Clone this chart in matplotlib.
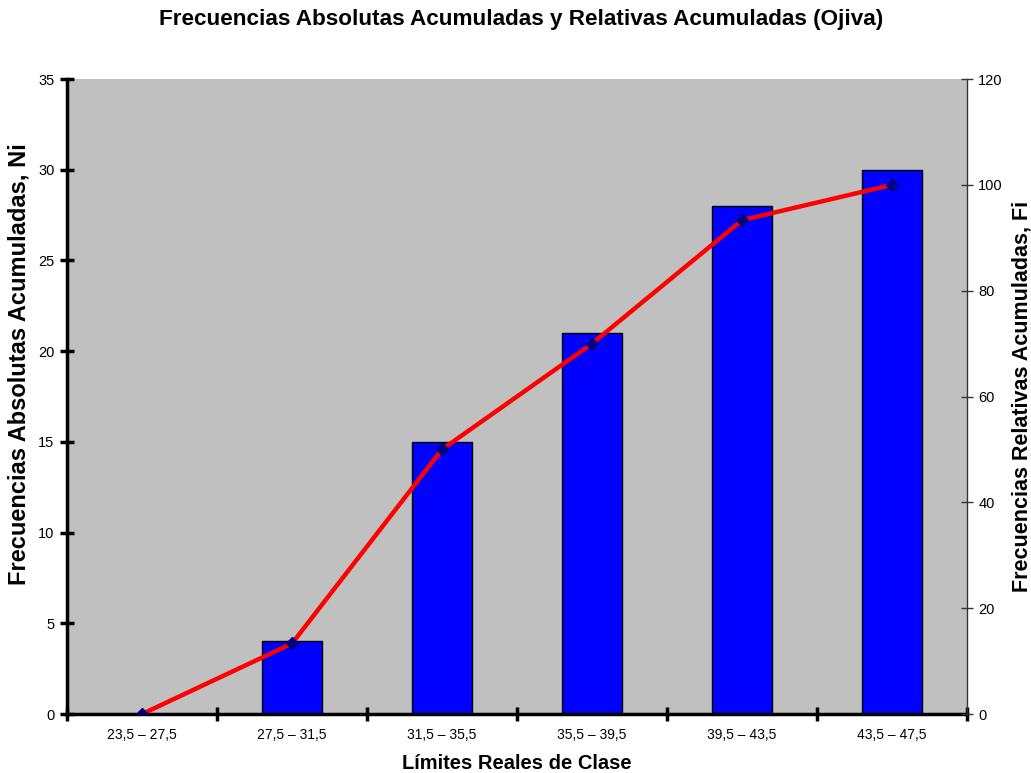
import matplotlib.pyplot as plt
import numpy as np

plt.rcParams['font.family'] = ['Liberation Sans', 'DejaVu Sans']

clases = ["23,5 – 27,5", "27,5 – 31,5", "31,5 – 35,5", "35,5 – 39,5", "39,5 – 43,5", "43,5 – 47,5"]
Ni = [0, 4, 15, 21, 28, 30]
Fi = [0, 13.33, 50, 70, 93.33, 100]

fig = plt.figure(figsize=(10.31, 7.73), dpi=100)
ax = fig.add_axes([0.065, 0.0763, 0.873, 0.8215])
ax.set_facecolor('#C0C0C0')

x = np.arange(len(clases))
ax.bar(x, Ni, width=0.4, color='#0000FF', edgecolor='black', linewidth=1, zorder=2)
ax.set_xlim(-0.5, len(clases) - 0.5)
ax.set_ylim(0, 35)
ax.set_yticks(range(0, 36, 5))
ax.set_xticks(np.arange(-0.5, len(clases), 1))
ax.set_xticklabels([])
ax.set_xticks(x, minor=True)
ax.set_xticklabels(clases, minor=True)
ax.tick_params(axis='x', which='minor', length=0, pad=10, labelsize=10)
ax.tick_params(axis='x', which='major', direction='inout', length=10, width=2.5)
ax.tick_params(axis='y', direction='inout', length=10, width=2.5, labelsize=10.5, pad=4)

for s in ['top', 'right']:
    ax.spines[s].set_visible(False)
ax.spines['left'].set_linewidth(2.5)
ax.spines['bottom'].set_linewidth(2.5)

ax2 = ax.twinx()
ax2.plot(x, Fi, color='#FF0000', linewidth=3.2, marker='D', markersize=6.5,
         markerfacecolor='#000080', markeredgecolor='#000080', zorder=3)
ax2.set_ylim(0, 120)
ax2.set_yticks(range(0, 121, 20))
for s in ['top', 'left', 'bottom']:
    ax2.spines[s].set_visible(False)
ax2.spines['right'].set_linewidth(1)
ax2.spines['right'].set_color('#333333')
ax2.tick_params(axis='y', direction='inout', length=8, width=1, color='#333333',
                labelsize=10.5, pad=4)

ax.set_xlabel('Límites Reales de Clase', fontsize=14.5, fontweight='bold', labelpad=9)
ax.set_ylabel('Frecuencias Absolutas Acumuladas, Ni', fontsize=17, fontweight='bold')
ax.yaxis.set_label_coords(-0.041, 0.551)
ax2.set_ylabel('Frecuencias Relativas Acumuladas, Fi', fontsize=15.5, fontweight='bold', labelpad=6)
fig.suptitle('Frecuencias Absolutas Acumuladas y Relativas Acumuladas (Ojiva)',
             fontsize=16.2, fontweight='bold', x=0.505, y=0.988)

fig.savefig('out.png', dpi=100)
